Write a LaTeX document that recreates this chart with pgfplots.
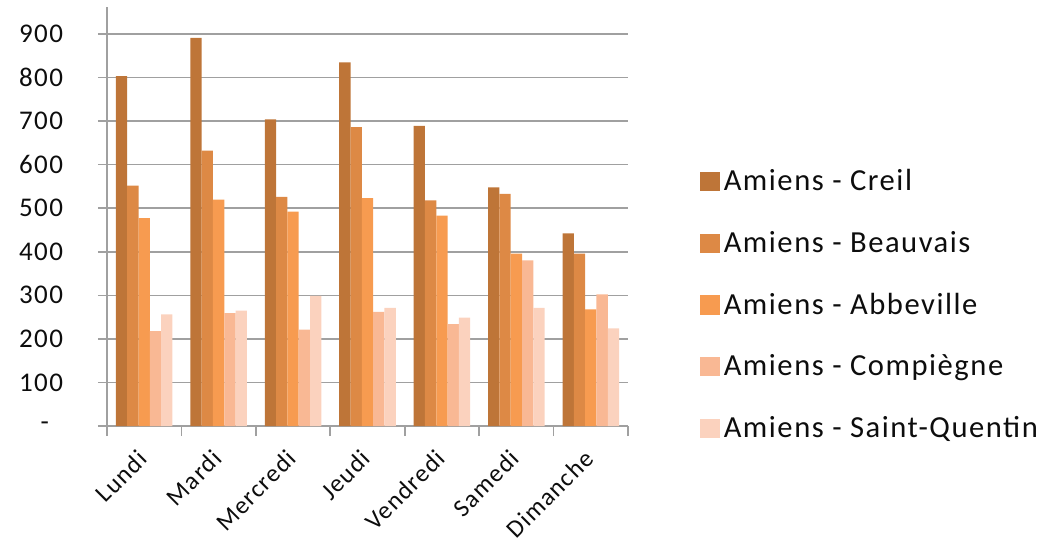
\documentclass[border=0pt]{standalone}
\usepackage{fontspec}
\setmainfont[LetterSpace=5]{Carlito}
\usepackage{pgfplots}
\pgfplotsset{compat=1.18}

\definecolor{creil}{RGB}{190,117,56}
\definecolor{beauvais}{RGB}{221,137,69}
\definecolor{abbeville}{RGB}{247,155,80}
\definecolor{compiegne}{RGB}{249,184,148}
\definecolor{stquentin}{RGB}{251,210,190}
\definecolor{gridgray}{RGB}{160,160,160}

\begin{document}
\begin{tikzpicture}
\begin{axis}[
    at={(0,0)}, anchor=south west,
    width=260.5bp, height=209.5bp,
    scale only axis,
    ybar=0pt,
    bar width=0.152,
    xmin=-0.5, xmax=6.5,
    ymin=0, ymax=962,
    xtick={0,...,6},
    xticklabels={Lundi,Mardi,Mercredi,Jeudi,Vendredi,Samedi,Dimanche},
    minor xtick={-0.5,0.5,...,6.5},
    ytick={0,100,...,900},
    yticklabels={{-\hspace*{7bp}},100,200,300,400,500,600,700,800,900},
    /pgf/number format/assume math mode=true,
    axis x line*=bottom,
    axis y line*=left,
    axis line style={gridgray, line width=0.8bp},
    ymajorgrids,
    major grid style={gridgray, line width=0.8bp},
    major x tick style={draw=none},
    minor x tick style={gridgray, line width=0.8bp},
    major y tick style={gridgray, line width=0.8bp},
    tick align=outside,
    major tick length=4.5bp,
    minor tick length=5bp,
    ticklabel style={text=black!95},
    yticklabel style={font=\fontsize{13.5bp}{15bp}\selectfont, xshift=-14bp},
    xticklabel style={font=\fontsize{12.5bp}{15bp}\selectfont,
        rotate=45, anchor=north east, xshift=-4bp, yshift=1.5bp},
    legend style={
        draw=none, fill=none,
        at={(1.137,0.289)}, anchor=west,
        font=\fontsize{15.3bp}{17bp}\selectfont,
        text=black!95,
        row sep=14.8bp,
        inner sep=0pt,
        /tikz/every even column/.append style={column sep=5.5bp},
    },
    legend cell align=left,
    legend image code/.code={\fill[#1] (0bp,-4.8bp) rectangle (10bp,4.8bp);},
]
\addplot[fill=creil, draw=none] coordinates {
    (0,803) (1,891) (2,704) (3,835) (4,689) (5,548) (6,442)
};
\addplot[fill=beauvais, draw=none] coordinates {
    (0,552) (1,632) (2,526) (3,686) (4,518) (5,533) (6,396)
};
\addplot[fill=abbeville, draw=none] coordinates {
    (0,477) (1,520) (2,492) (3,523) (4,483) (5,396) (6,268)
};
\addplot[fill=compiegne, draw=none] coordinates {
    (0,218) (1,259) (2,221) (3,262) (4,234) (5,380) (6,302)
};
\addplot[fill=stquentin, draw=none] coordinates {
    (0,256) (1,265) (2,299) (3,271) (4,249) (5,271) (6,224)
};
\legend{Amiens - Creil, Amiens - Beauvais, Amiens - Abbeville, Amiens - Compiègne, Amiens - Saint-Quentin}
\end{axis}
\pgfresetboundingbox
\path[use as bounding box] (-53.5bp,-58.5bp) rectangle (473.5bp,213bp);
\end{tikzpicture}
\end{document}
